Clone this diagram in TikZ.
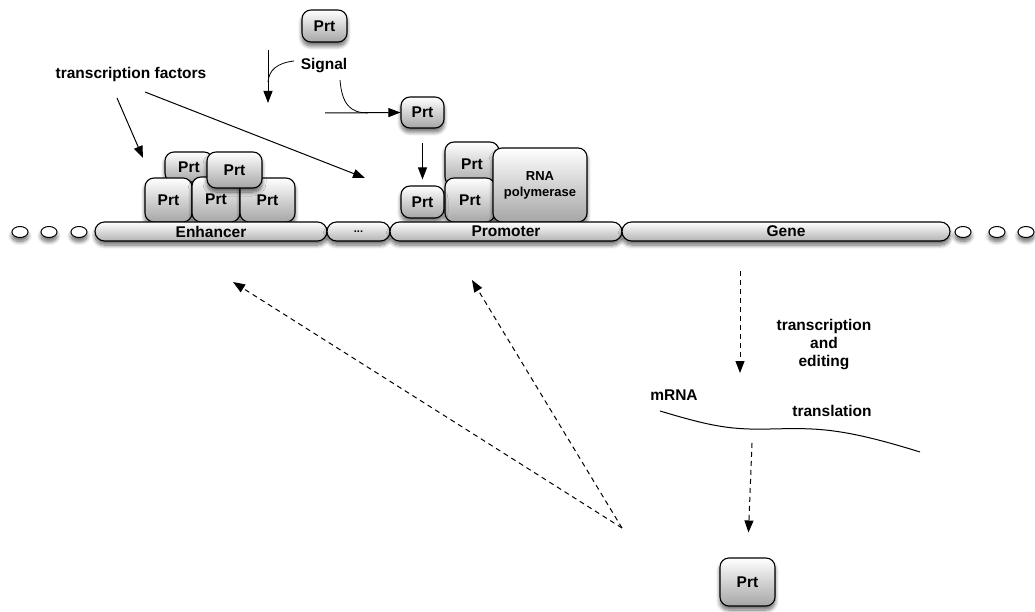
\documentclass[tikz,border=0pt]{standalone}
\usepackage{fontspec}
\setmainfont{Liberation Sans}
\usetikzlibrary{positioning,arrows.meta,shapes.geometric,shadows.blur}

\begin{document}
\begin{tikzpicture}[x=1pt,y=-1pt,
    every node/.style={font=\fontsize{15.5}{18}\selectfont\bfseries},
    shd/.style={blur shadow={shadow blur steps=8,shadow blur radius=4pt,shadow xshift=0pt,shadow yshift=-4pt,shadow opacity=60}},
    prt/.style={draw,line width=1.1pt,rounded corners=9pt,top color=white,bottom color=black!35,inner sep=0pt,shd},
    seg/.style={draw,line width=1.1pt,rounded corners=9.5pt,top color=white,bottom color=black!30,minimum height=19pt,inner sep=0pt,shd},
    bead/.style={ellipse,draw,line width=1pt,fill=white,minimum width=16pt,minimum height=11pt,inner sep=0pt,shd},
    arr/.style={line width=1pt,-{Triangle[length=12pt,width=9pt]}},
    darr/.style={arr,dash pattern=on 5pt off 4pt}]
    \useasboundingbox (0,0) rectangle (1035,612);

    \node[bead] (l1) at (20,232) {};
    \node[bead] (l2) at (49,232) {};
    \node[bead] (l3) at (79,232) {};
    \node[bead] (r1) at (963,232) {};
    \node[bead] (r2) at (997,232) {};
    \node[bead] (r3) at (1026,232) {};

    \node[prt,minimum width=48pt,minimum height=30pt] (e4) at (189,167) {Prt};
    \node[prt,minimum width=47pt,minimum height=44pt] (e1) at (168.5,200) {Prt};
    \node[prt,minimum width=48pt,minimum height=45pt] (e2) at (216,199.5) {Prt};
    \node[prt,minimum width=55pt,minimum height=44pt] (e3) at (267.5,200) {Prt};
    \node[prt,minimum width=55pt,minimum height=36pt] (e5) at (234.5,170) {Prt};

    \node[prt,minimum width=54pt,minimum height=44pt] (p2) at (472,164) {Prt};
    \node[prt,minimum width=50pt,minimum height=44pt] (p3) at (470,200) {Prt};
    \node[prt,minimum width=94pt,minimum height=74pt,align=center,font=\fontsize{13}{16}\selectfont\bfseries] (rnap) at (540,185) {RNA\\polymerase};
    \node[prt,minimum width=43pt,minimum height=32pt] (p1) at (422.5,202) {Prt};
    \node[prt,minimum width=43pt,minimum height=31pt] (pf) at (422.5,112.5) {Prt};
    \node[prt,minimum width=45pt,minimum height=32pt] (ptop) at (324.5,26) {Prt};
    \node[prt,minimum width=55pt,minimum height=48pt] (pbot) at (747.5,582) {Prt};

    \node[seg,minimum width=232pt] (enh) at (211,231.5) {Enhancer};
    \node[seg,minimum width=63pt,font=\fontsize{11}{12}\selectfont\bfseries] (gap) at (358.5,231.5) {...};
    \node[seg,minimum width=232pt] (prom) at (506,231.5) {Promoter};
    \node[seg,minimum width=328pt] (gene) at (786,231.5) {Gene};

    \node (tf) at (131,74) {transcription factors};
    \node (signal) at (324,66) {Signal};
    \node[align=center] (tce) at (824,345) {transcription\\and\\editing};
    \node (mrna) at (674,395) {mRNA};
    \node (transl) at (832,411) {translation};

    \coordinate (tfA) at (117,98);
    \coordinate (tfB) at (143,158);
    \coordinate (tfC) at (145,92);
    \coordinate (tfD) at (365,178);
    \coordinate (sgA) at (268,50);
    \coordinate (sgB) at (268,103);
    \coordinate (sgC) at (294,61);
    \coordinate (sgD) at (268,82);
    \coordinate (sgE) at (340,80);
    \coordinate (sgF) at (325,113);
    \coordinate (sgG) at (368,113);
    \coordinate (tcA) at (740,271);
    \coordinate (tcB) at (740,373);
    \coordinate (mA) at (660,411);
    \coordinate (mB) at (920,452);
    \coordinate (tlA) at (752,443);
    \coordinate (reg) at (622,528);
    \coordinate (enhT) at (233,282);
    \coordinate (promT) at (472,280);

    \draw[arr] (tfA) -- (tfB);
    \draw[arr] (tfC) -- (tfD);
    \draw[arr] (sgA) -- (sgB);
    \draw[line width=.8pt] (sgC) .. controls (277,63) and (269,70) .. (sgD);
    \draw[arr] (sgF) -- (pf.west);
    \draw[line width=.8pt] (sgE) .. controls (342,104) and (350,113) .. (sgG);
    \draw[arr,shorten <=14pt,shorten >=6pt] (pf.south) -- (p1.north);
    \draw[darr] (tcA) -- (tcB);
    \draw[line width=1pt] (mA) .. controls (710,426) and (730,430) .. (770,429)
        .. controls (815,428) and (840,427) .. (mB);
    \draw[darr,shorten >=25pt] (tlA) -- (pbot.north);
    \draw[darr] (reg) -- (enhT);
    \draw[darr] (reg) -- (promT);
\end{tikzpicture}
\end{document}
